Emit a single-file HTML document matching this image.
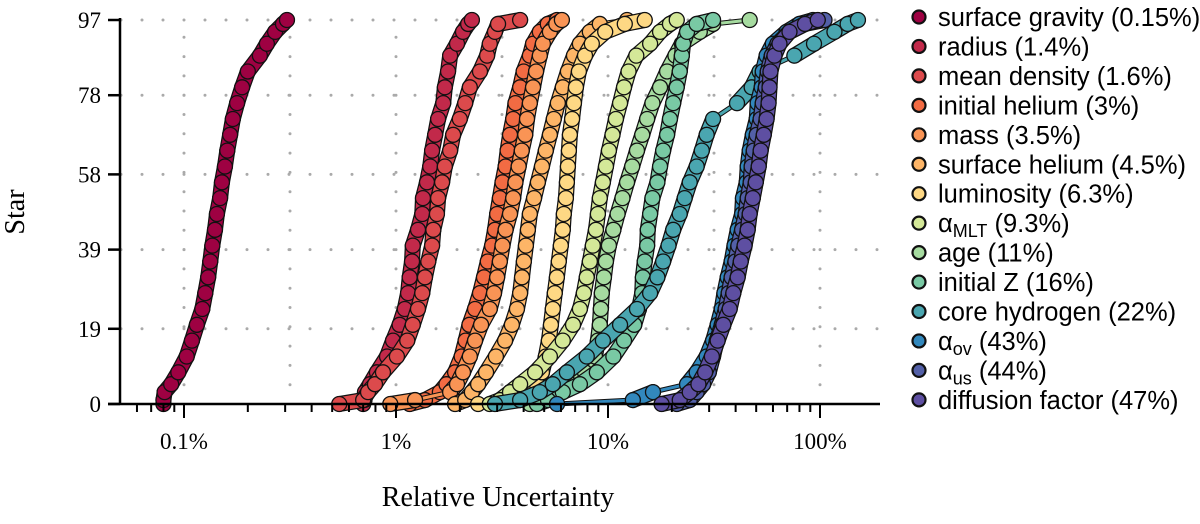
<!DOCTYPE html>
<html><head><meta charset="utf-8">
<style>
html,body{margin:0;padding:0;background:#fff;}
svg{display:block;}
.tick{font-family:"Liberation Serif",serif;font-size:23px;fill:#000;}
.leg{font-family:"Liberation Sans",sans-serif;font-size:25.5px;fill:#000;}
</style></head>
<body>
<svg id="chart" width="1200" height="524" viewBox="0 0 1200 524" xmlns="http://www.w3.org/2000/svg">
  <g id="grid"></g>
  <g id="series"></g>
  <g id="axes"></g>
  <g id="legend"></g>
  <text x="24" y="212" class="tick" style="font-size:28px" text-anchor="middle" transform="rotate(-90 24 212)">Star</text>
  <text x="498" y="506" class="tick" style="font-size:28px" text-anchor="middle">Relative Uncertainty</text>
</svg>
<script>
const ranks = [0,1,3,5,8,12,16,20,24,28,32,36,40,44,48,52,56,60,64,68,72,76,80,84,88,91,94,96,97];
const seriesNames = ["surface gravity","radius","mean density","initial helium","mass","surface helium","luminosity","αMLT","age","initial Z","core hydrogen","αov","αus","diffusion factor"];
const medians = ["0.15%","1.4%","1.6%","3%","3.5%","4.5%","6.3%","9.3%","11%","16%","22%","43%","44%","47%"];
const colors = ["#9e0142","#c2294a","#dc4a4c","#f26b43","#f99455","#fdb567","#fed884","#d4e898","#a6dba0","#79c9a4","#4aa6b0","#3288bd","#5360a8","#5e4fa2"];
const surfaceGravity = [.080,.080,.081,.087,.094,.103,.109,.115,.122,.126,.130,.133,.136,.140,.143,.148,.151,.156,.160,.165,.170,.178,.188,.200,.228,.246,.269,.293,.306];
const radius = [.70,.71,.714,.754,.813,.907,.968,1.04,1.10,1.14,1.16,1.19,1.20,1.27,1.33,1.34,1.40,1.45,1.48,1.53,1.58,1.67,1.70,1.76,1.80,1.94,2.07,2.19,2.28];
const meanDensity = [.54,.70,.738,.796,.868,1.01,1.13,1.20,1.27,1.33,1.37,1.42,1.48,1.50,1.56,1.58,1.65,1.70,1.80,1.86,2.00,2.12,2.23,2.49,2.69,2.77,2.93,3.03,3.85];
const initialHelium = [1.16,1.37,1.61,1.73,1.90,2.04,2.13,2.22,2.36,2.49,2.60,2.71,2.84,2.93,3.00,3.09,3.18,3.29,3.36,3.45,3.57,3.66,3.85,4.00,4.28,4.43,4.77,5.20,5.75];
const mass = [0.94,1.23,1.80,1.94,2.07,2.23,2.36,2.52,2.77,2.90,3.00,3.09,3.18,3.29,3.45,3.57,3.66,3.79,3.92,4.07,4.15,4.28,4.43,4.58,4.77,4.93,5.32,5.70,6.06];
const surfaceHelium = [1.90,2.12,2.28,2.44,2.66,2.96,3.27,3.52,3.72,3.85,3.93,4.01,4.10,4.19,4.28,4.48,4.67,4.88,5.09,5.32,5.55,5.80,6.12,6.47,6.91,7.37,8.21,9.15,12.3];
const luminosity = [2.44,3.27,4.28,4.62,4.88,5.09,5.26,5.38,5.49,5.61,5.74,5.86,5.99,6.12,6.19,6.33,6.40,6.47,6.54,6.61,6.77,6.91,7.06,7.29,7.79,8.39,9.70,12.0,14.9];
const alphaMLT = [2.77,3.09,3.45,3.85,4.53,5.32,6.12,6.84,7.37,7.69,7.94,8.21,8.48,8.77,8.96,9.15,9.46,9.78,10.1,10.5,10.9,11.4,11.9,12.5,13.6,15.8,17.6,19.6,21.1];
const age = [4.28,4.77,5.61,6.61,7.79,8.68,8.96,9.15,9.25,9.35,9.57,9.78,10.1,10.6,11.1,11.7,12.3,13.0,13.7,14.5,15.3,16.2,17.6,19.0,20.8,22.3,27.1,31.3,46.6];
const initialZ = [4.62,5.21,6.12,7.37,8.86,10.6,11.9,13.3,14.0,14.5,14.6,14.9,15.3,15.4,15.8,16.2,17.1,17.6,18.2,19.0,19.6,20.3,21.1,21.8,22.3,22.6,23.6,26.2,31.3];
const coreHydrogen = [2.93,3.85,4.77,5.49,6.40,7.94,9.46,11.4,13.7,15.8,17.1,18.2,19.3,20.3,21.8,23.0,24.3,26.2,27.7,29.2,31.3,40.6,47.6,51.9,75.7,93.7,117,135,151];
const alphaOv = [5.75,13.1,16.3,23.6,26.2,29.2,31.3,32.9,34.4,35.4,36.7,38.3,39.5,40.9,42.9,43.3,45.1,45.6,46.6,48.2,50.3,50.8,53.1,53.7,56.0,59.9,69.5,80.0,92.7];
const alphaUs = [21.1,24.3,26.2,28.1,29.9,31.3,32.6,34.4,35.9,37.1,38.3,39.9,41.2,42.9,44.6,45.6,47.1,47.6,48.7,50.3,52.5,53.7,55.5,56.7,59.2,63.0,71.8,84.9,105];
const diffusion = [17.9,21.8,24.3,26.7,28.7,30.9,32.9,35.0,37.5,39.0,40.9,42.3,44.1,45.6,46.6,48.2,49.8,51.4,52.5,54.3,56.0,57.2,57.8,58.4,61.0,64.4,71.8,84.9,97.6];
const allSeries = [surfaceGravity,radius,meanDensity,initialHelium,mass,surfaceHelium,luminosity,alphaMLT,age,initialZ,coreHydrogen,alphaOv,alphaUs,diffusion];
const yTicks = [0,19,39,58,78,97];
const xTickLabels = ["0.1%","1%","10%","100%"];
const xTickValues = [0.1,1,10,100];

const NS="http://www.w3.org/2000/svg";
const X0=120, X1=880, Y0=404, Y1=20;
const DEC=212, X_ONE=396;
function xs(v){return X_ONE + DEC*Math.log10(v);}
function ys(r){return Y0 - (Y0-Y1)*r/97;}
function mk(tag,attrs,parent){const e=document.createElementNS(NS,tag);for(const k in attrs)e.setAttribute(k,attrs[k]);parent.appendChild(e);return e;}

const grid=document.getElementById('grid');
yTicks.forEach(t=>{
  if(t===0) return;
  const l=mk('line',{x1:X0+1,x2:X1,y1:ys(t),y2:ys(t),stroke:'#aaa','stroke-width':3,'stroke-linecap':'round','stroke-dasharray':'0 21'},grid);
  
  
});
for(let e=-1;e<=2.5;e+=0.5){
  const x=xs(Math.pow(10,e));
  if(x<X0||x>X1) continue;
  const l=mk('line',{x1:x,x2:x,y1:Y0-19.3,y2:Y1,stroke:'#aaa','stroke-width':3,'stroke-linecap':'round','stroke-dasharray':'0 19.3'},grid);
  
  
}

const sg=document.getElementById('series');
allSeries.forEach((vals,si)=>{
  const g=mk('g',{},sg);
  
  
  const pts=vals.map((v,i)=>[xs(v),ys(ranks[i])]);
  for(let i=1;i<pts.length;i++){
    const d=Math.hypot(pts[i][0]-pts[i-1][0],pts[i][1]-pts[i-1][1]);
    if(d<26){
      mk('line',{x1:pts[i-1][0],y1:pts[i-1][1],x2:pts[i][0],y2:pts[i][1],stroke:'#111','stroke-width':16,'stroke-linecap':'round'},g);
    }
  }
  const ptsStr=pts.map(p=>p[0].toFixed(1)+','+p[1].toFixed(1)).join(' ');
  mk('polyline',{points:ptsStr,fill:'none',stroke:'#111','stroke-width':5,'stroke-linejoin':'round'},g);
  for(let i=1;i<pts.length;i++){
    const d=Math.hypot(pts[i][0]-pts[i-1][0],pts[i][1]-pts[i-1][1]);
    if(d<26){
      mk('line',{x1:pts[i-1][0],y1:pts[i-1][1],x2:pts[i][0],y2:pts[i][1],stroke:colors[si],'stroke-width':13.5,'stroke-linecap':'round'},g);
    }
  }
  mk('polyline',{points:ptsStr,fill:'none',stroke:colors[si],'stroke-width':3,'stroke-linejoin':'round'},g);
  pts.forEach(p=>{
    const c=mk('circle',{cx:p[0],cy:p[1],r:7.5,fill:colors[si],stroke:'#111','stroke-width':1.3},g);
    
    
  });
});

const ax=document.getElementById('axes');
const ya=mk('line',{x1:X0,x2:X0,y1:Y1-2,y2:Y0,stroke:'#000','stroke-width':2.5},ax);


const xa=mk('line',{x1:108,x2:X1,y1:Y0,y2:Y0,stroke:'#000','stroke-width':2.5},ax);


yTicks.forEach(t=>{
  mk('line',{x1:108,x2:X0,y1:ys(t),y2:ys(t),stroke:'#000','stroke-width':2.5},ax);
  const tx=mk('text',{x:101,y:ys(t)+8,'text-anchor':'end',class:'tick'},ax);
  tx.textContent=t;
  
  
});
for(let e=-2;e<=2;e++){
  for(let m=1;m<=9;m++){
    const v=m*Math.pow(10,e);
    const x=xs(v);
    if(x<X0+1||x>X1) continue;
    mk('line',{x1:x,x2:x,y1:Y0,y2:Y0+(m===1?14:8),stroke:'#000','stroke-width':2},ax);
  }
}
xTickValues.forEach((v,i)=>{
  const tx=mk('text',{x:xs(v),y:449,'text-anchor':'middle',class:'tick'},ax);
  tx.textContent=xTickLabels[i];
  
  
});

const lg=document.getElementById('legend');
seriesNames.forEach((n,i)=>{
  const y=17+i*29.45;
  const g=mk('g',{},lg);
  
  
  mk('circle',{cx:919,cy:y,r:6.5,fill:colors[i],stroke:'#111','stroke-width':2.2},g);
  const t=mk('text',{x:938,y:y+9,class:'leg'},g);
  if(n.startsWith('α')){
    t.appendChild(document.createTextNode('α'));
    const s=mk('tspan',{'font-size':'18','dy':'5'},t);
    s.textContent=n.slice(1);
    const r=mk('tspan',{'dy':'-5'},t);
    r.textContent=' ('+medians[i]+')';
  } else {
    t.textContent=n+' ('+medians[i]+')';
  }
});
</script>
</body></html>
